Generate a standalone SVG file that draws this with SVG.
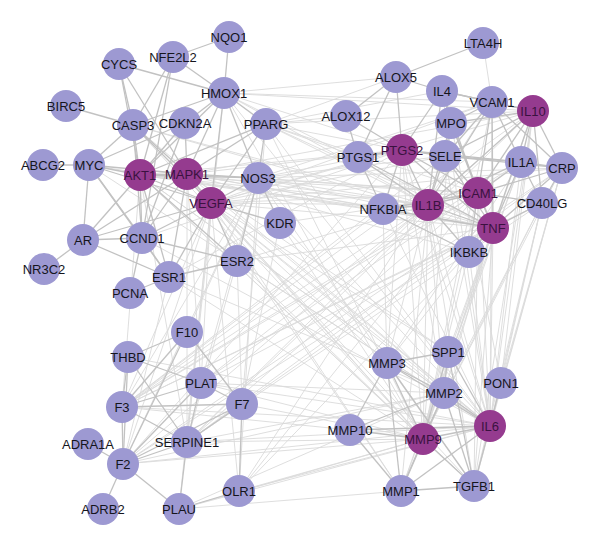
<svg xmlns="http://www.w3.org/2000/svg" width="600" height="547" viewBox="0 0 600 547">
<style>
.k{stroke:#c2c2c2;stroke-width:1.3;fill:none}
.f{stroke:#dadada;stroke-width:0.9;fill:none}
.n circle{fill:#9d99d2}
.h circle{fill:#953b8f}
text{font-family:"Liberation Sans",Arial,sans-serif;font-size:13px;fill:#15151c;text-anchor:middle}
.h text{fill:#3a1240}
</style>
<rect width="600" height="547" fill="#ffffff"/>
<g id="connectors">
<g class="f">
<line x1="140" y1="175" x2="428" y2="205"/><line x1="140" y1="175" x2="493" y2="228"/><line x1="140" y1="175" x2="402" y2="150"/><line x1="140" y1="175" x2="478" y2="193"/><line x1="140" y1="175" x2="383" y2="209"/>
<line x1="187" y1="174" x2="428" y2="205"/><line x1="187" y1="174" x2="493" y2="228"/><line x1="187" y1="174" x2="402" y2="150"/><line x1="187" y1="174" x2="478" y2="193"/><line x1="187" y1="174" x2="383" y2="209"/><line x1="187" y1="174" x2="469" y2="252"/><line x1="187" y1="174" x2="533" y2="111"/>
<line x1="211" y1="203" x2="428" y2="205"/><line x1="211" y1="203" x2="493" y2="228"/><line x1="211" y1="203" x2="478" y2="193"/><line x1="211" y1="203" x2="402" y2="150"/><line x1="211" y1="203" x2="533" y2="111"/><line x1="211" y1="203" x2="492" y2="102"/><line x1="211" y1="203" x2="445" y2="156"/><line x1="211" y1="203" x2="562" y2="168"/>
<line x1="258" y1="178" x2="478" y2="193"/><line x1="258" y1="178" x2="492" y2="102"/><line x1="258" y1="178" x2="493" y2="228"/><line x1="258" y1="178" x2="402" y2="150"/><line x1="258" y1="178" x2="445" y2="156"/><line x1="258" y1="178" x2="562" y2="168"/><line x1="258" y1="178" x2="428" y2="205"/>
<line x1="224" y1="93" x2="402" y2="150"/><line x1="224" y1="93" x2="533" y2="111"/><line x1="224" y1="93" x2="493" y2="228"/><line x1="224" y1="93" x2="396" y2="77"/><line x1="224" y1="93" x2="492" y2="102"/><line x1="224" y1="93" x2="428" y2="205"/>
<line x1="266" y1="124" x2="402" y2="150"/><line x1="266" y1="124" x2="493" y2="228"/><line x1="266" y1="124" x2="428" y2="205"/><line x1="266" y1="124" x2="478" y2="193"/><line x1="266" y1="124" x2="346" y2="116"/><line x1="266" y1="124" x2="396" y2="77"/><line x1="266" y1="124" x2="533" y2="111"/><line x1="266" y1="124" x2="358" y2="157"/><line x1="266" y1="124" x2="442" y2="91"/>
<line x1="133" y1="125" x2="493" y2="228"/><line x1="133" y1="125" x2="428" y2="205"/><line x1="89" y1="165" x2="493" y2="228"/><line x1="142" y1="238" x2="402" y2="150"/><line x1="169" y1="277" x2="402" y2="150"/><line x1="237" y1="261" x2="428" y2="205"/><line x1="237" y1="261" x2="493" y2="228"/><line x1="280" y1="223" x2="478" y2="193"/>
<line x1="211" y1="203" x2="423" y2="439"/><line x1="211" y1="203" x2="490" y2="426"/><line x1="211" y1="203" x2="444" y2="393"/><line x1="140" y1="175" x2="423" y2="439"/><line x1="140" y1="175" x2="490" y2="426"/><line x1="187" y1="174" x2="423" y2="439"/><line x1="187" y1="174" x2="490" y2="426"/><line x1="187" y1="174" x2="401" y2="491"/>
<line x1="258" y1="178" x2="490" y2="426"/><line x1="258" y1="178" x2="474" y2="486"/><line x1="142" y1="238" x2="490" y2="426"/><line x1="169" y1="277" x2="444" y2="393"/><line x1="237" y1="261" x2="423" y2="439"/><line x1="237" y1="261" x2="490" y2="426"/><line x1="280" y1="223" x2="444" y2="393"/><line x1="280" y1="223" x2="423" y2="439"/>
<line x1="266" y1="124" x2="490" y2="426"/><line x1="266" y1="124" x2="423" y2="439"/><line x1="224" y1="93" x2="423" y2="439"/><line x1="224" y1="93" x2="490" y2="426"/><line x1="133" y1="125" x2="423" y2="439"/><line x1="133" y1="125" x2="490" y2="426"/><line x1="89" y1="165" x2="490" y2="426"/><line x1="211" y1="203" x2="387" y2="363"/>
<line x1="211" y1="203" x2="448" y2="352"/><line x1="211" y1="203" x2="474" y2="486"/><line x1="140" y1="175" x2="474" y2="486"/><line x1="169" y1="277" x2="423" y2="439"/><line x1="187" y1="174" x2="448" y2="352"/><line x1="140" y1="175" x2="444" y2="393"/><line x1="211" y1="203" x2="401" y2="491"/>
<line x1="533" y1="111" x2="490" y2="426"/><line x1="533" y1="111" x2="474" y2="486"/><line x1="533" y1="111" x2="423" y2="439"/><line x1="562" y1="168" x2="490" y2="426"/><line x1="562" y1="168" x2="501" y2="383"/><line x1="562" y1="168" x2="423" y2="439"/><line x1="542" y1="203" x2="490" y2="426"/><line x1="542" y1="203" x2="423" y2="439"/><line x1="542" y1="203" x2="474" y2="486"/>
<line x1="493" y1="228" x2="490" y2="426"/><line x1="493" y1="228" x2="423" y2="439"/><line x1="493" y1="228" x2="444" y2="393"/><line x1="493" y1="228" x2="474" y2="486"/><line x1="493" y1="228" x2="401" y2="491"/><line x1="493" y1="228" x2="387" y2="363"/><line x1="493" y1="228" x2="448" y2="352"/>
<line x1="478" y1="193" x2="490" y2="426"/><line x1="478" y1="193" x2="423" y2="439"/><line x1="478" y1="193" x2="474" y2="486"/><line x1="428" y1="205" x2="490" y2="426"/><line x1="428" y1="205" x2="423" y2="439"/><line x1="428" y1="205" x2="387" y2="363"/><line x1="428" y1="205" x2="401" y2="491"/><line x1="428" y1="205" x2="444" y2="393"/><line x1="428" y1="205" x2="474" y2="486"/>
<line x1="492" y1="102" x2="490" y2="426"/><line x1="492" y1="102" x2="423" y2="439"/><line x1="445" y1="156" x2="490" y2="426"/><line x1="451" y1="123" x2="423" y2="439"/><line x1="451" y1="123" x2="501" y2="383"/><line x1="442" y1="91" x2="490" y2="426"/><line x1="521" y1="162" x2="490" y2="426"/><line x1="521" y1="162" x2="423" y2="439"/><line x1="521" y1="162" x2="387" y2="363"/><line x1="521" y1="162" x2="401" y2="491"/>
<line x1="402" y1="150" x2="490" y2="426"/><line x1="402" y1="150" x2="423" y2="439"/><line x1="402" y1="150" x2="444" y2="393"/><line x1="383" y1="209" x2="490" y2="426"/><line x1="469" y1="252" x2="490" y2="426"/><line x1="469" y1="252" x2="423" y2="439"/><line x1="562" y1="168" x2="474" y2="486"/><line x1="542" y1="203" x2="444" y2="393"/><line x1="542" y1="203" x2="501" y2="383"/><line x1="533" y1="111" x2="501" y2="383"/><line x1="402" y1="150" x2="387" y2="363"/><line x1="383" y1="209" x2="387" y2="363"/>
<line x1="478" y1="193" x2="187" y2="442"/><line x1="493" y1="228" x2="187" y2="442"/><line x1="493" y1="228" x2="122" y2="407"/><line x1="428" y1="205" x2="187" y2="442"/><line x1="428" y1="205" x2="122" y2="407"/><line x1="428" y1="205" x2="201" y2="383"/><line x1="493" y1="228" x2="123" y2="464"/><line x1="493" y1="228" x2="239" y2="491"/>
<line x1="562" y1="168" x2="123" y2="464"/><line x1="562" y1="168" x2="187" y2="442"/><line x1="533" y1="111" x2="122" y2="407"/><line x1="492" y1="102" x2="239" y2="491"/><line x1="478" y1="193" x2="239" y2="491"/><line x1="445" y1="156" x2="122" y2="407"/><line x1="402" y1="150" x2="123" y2="464"/><line x1="521" y1="162" x2="122" y2="407"/>
<line x1="542" y1="203" x2="122" y2="407"/><line x1="542" y1="203" x2="187" y2="442"/><line x1="428" y1="205" x2="123" y2="464"/><line x1="383" y1="209" x2="122" y2="407"/><line x1="478" y1="193" x2="122" y2="407"/><line x1="533" y1="111" x2="187" y2="442"/><line x1="493" y1="228" x2="201" y2="383"/><line x1="521" y1="162" x2="201" y2="383"/>
<line x1="187" y1="442" x2="490" y2="426"/><line x1="187" y1="442" x2="423" y2="439"/><line x1="187" y1="442" x2="444" y2="393"/><line x1="122" y1="407" x2="490" y2="426"/><line x1="123" y1="464" x2="423" y2="439"/><line x1="123" y1="464" x2="444" y2="393"/><line x1="179" y1="509" x2="423" y2="439"/><line x1="179" y1="509" x2="444" y2="393"/><line x1="179" y1="509" x2="401" y2="491"/><line x1="179" y1="509" x2="490" y2="426"/>
<line x1="201" y1="383" x2="423" y2="439"/><line x1="201" y1="383" x2="444" y2="393"/><line x1="239" y1="491" x2="490" y2="426"/><line x1="239" y1="491" x2="423" y2="439"/><line x1="122" y1="407" x2="350" y2="430"/><line x1="128" y1="357" x2="490" y2="426"/><line x1="242" y1="404" x2="423" y2="439"/><line x1="123" y1="464" x2="490" y2="426"/><line x1="201" y1="383" x2="490" y2="426"/>
<line x1="211" y1="203" x2="187" y2="442"/><line x1="211" y1="203" x2="122" y2="407"/><line x1="211" y1="203" x2="201" y2="383"/><line x1="211" y1="203" x2="123" y2="464"/><line x1="140" y1="175" x2="187" y2="442"/><line x1="140" y1="175" x2="122" y2="407"/><line x1="187" y1="174" x2="187" y2="442"/><line x1="258" y1="178" x2="123" y2="464"/>
<line x1="258" y1="178" x2="122" y2="407"/><line x1="258" y1="178" x2="201" y2="383"/><line x1="258" y1="178" x2="187" y2="332"/><line x1="169" y1="277" x2="123" y2="464"/><line x1="237" y1="261" x2="242" y2="404"/><line x1="237" y1="261" x2="187" y2="442"/><line x1="280" y1="223" x2="242" y2="404"/><line x1="266" y1="124" x2="242" y2="404"/>
<line x1="224" y1="93" x2="187" y2="442"/><line x1="187" y1="174" x2="201" y2="383"/><line x1="211" y1="203" x2="179" y2="509"/><line x1="211" y1="203" x2="239" y2="491"/><line x1="258" y1="178" x2="239" y2="491"/><line x1="483" y1="43" x2="492" y2="102"/>
</g>
<g class="k">
<line x1="229" y1="37" x2="173" y2="57"/><line x1="229" y1="37" x2="224" y2="93"/><line x1="173" y1="57" x2="224" y2="93"/><line x1="119" y1="64" x2="224" y2="93"/><line x1="119" y1="64" x2="133" y2="125"/><line x1="119" y1="64" x2="140" y2="175"/><line x1="119" y1="64" x2="187" y2="174"/>
<line x1="173" y1="57" x2="133" y2="125"/><line x1="173" y1="57" x2="140" y2="175"/><line x1="173" y1="57" x2="142" y2="238"/><line x1="66" y1="106" x2="133" y2="125"/><line x1="224" y1="93" x2="133" y2="125"/><line x1="224" y1="93" x2="185" y2="123"/><line x1="224" y1="93" x2="266" y2="124"/><line x1="224" y1="93" x2="140" y2="175"/>
<line x1="224" y1="93" x2="187" y2="174"/><line x1="224" y1="93" x2="211" y2="203"/><line x1="224" y1="93" x2="258" y2="178"/><line x1="133" y1="125" x2="140" y2="175"/><line x1="133" y1="125" x2="187" y2="174"/><line x1="133" y1="125" x2="89" y2="165"/><line x1="133" y1="125" x2="211" y2="203"/><line x1="133" y1="125" x2="142" y2="238"/>
<line x1="185" y1="123" x2="140" y2="175"/><line x1="185" y1="123" x2="187" y2="174"/><line x1="185" y1="123" x2="142" y2="238"/><line x1="185" y1="123" x2="89" y2="165"/><line x1="89" y1="165" x2="43" y2="165"/><line x1="89" y1="165" x2="140" y2="175"/><line x1="89" y1="165" x2="187" y2="174"/><line x1="89" y1="165" x2="83" y2="240"/>
<line x1="89" y1="165" x2="142" y2="238"/><line x1="89" y1="165" x2="211" y2="203"/><line x1="89" y1="165" x2="169" y2="277"/><line x1="140" y1="175" x2="187" y2="174"/><line x1="140" y1="175" x2="211" y2="203"/><line x1="140" y1="175" x2="258" y2="178"/><line x1="140" y1="175" x2="142" y2="238"/><line x1="140" y1="175" x2="169" y2="277"/>
<line x1="140" y1="175" x2="83" y2="240"/><line x1="140" y1="175" x2="237" y2="261"/><line x1="187" y1="174" x2="211" y2="203"/><line x1="187" y1="174" x2="258" y2="178"/><line x1="187" y1="174" x2="169" y2="277"/><line x1="187" y1="174" x2="142" y2="238"/><line x1="187" y1="174" x2="83" y2="240"/><line x1="211" y1="203" x2="258" y2="178"/>
<line x1="211" y1="203" x2="280" y2="223"/><line x1="211" y1="203" x2="237" y2="261"/><line x1="211" y1="203" x2="169" y2="277"/><line x1="211" y1="203" x2="142" y2="238"/><line x1="211" y1="203" x2="83" y2="240"/><line x1="258" y1="178" x2="280" y2="223"/><line x1="258" y1="178" x2="266" y2="124"/><line x1="258" y1="178" x2="237" y2="261"/>
<line x1="266" y1="124" x2="211" y2="203"/><line x1="266" y1="124" x2="140" y2="175"/><line x1="266" y1="124" x2="187" y2="174"/><line x1="83" y1="240" x2="44" y2="269"/><line x1="83" y1="240" x2="142" y2="238"/><line x1="83" y1="240" x2="169" y2="277"/><line x1="142" y1="238" x2="169" y2="277"/><line x1="142" y1="238" x2="237" y2="261"/>
<line x1="169" y1="277" x2="237" y2="261"/><line x1="169" y1="277" x2="130" y2="293"/><line x1="130" y1="293" x2="142" y2="238"/>
<line x1="483" y1="43" x2="396" y2="77"/><line x1="396" y1="77" x2="442" y2="91"/><line x1="396" y1="77" x2="346" y2="116"/><line x1="396" y1="77" x2="358" y2="157"/><line x1="396" y1="77" x2="402" y2="150"/><line x1="346" y1="116" x2="358" y2="157"/><line x1="346" y1="116" x2="402" y2="150"/><line x1="358" y1="157" x2="402" y2="150"/>
<line x1="442" y1="91" x2="492" y2="102"/><line x1="442" y1="91" x2="451" y2="123"/><line x1="442" y1="91" x2="402" y2="150"/><line x1="442" y1="91" x2="533" y2="111"/><line x1="442" y1="91" x2="478" y2="193"/><line x1="442" y1="91" x2="428" y2="205"/><line x1="492" y1="102" x2="533" y2="111"/><line x1="492" y1="102" x2="445" y2="156"/>
<line x1="492" y1="102" x2="478" y2="193"/><line x1="492" y1="102" x2="521" y2="162"/><line x1="492" y1="102" x2="493" y2="228"/><line x1="492" y1="102" x2="451" y2="123"/><line x1="492" y1="102" x2="428" y2="205"/><line x1="492" y1="102" x2="562" y2="168"/><line x1="533" y1="111" x2="521" y2="162"/><line x1="533" y1="111" x2="562" y2="168"/>
<line x1="533" y1="111" x2="542" y2="203"/><line x1="533" y1="111" x2="493" y2="228"/><line x1="533" y1="111" x2="478" y2="193"/><line x1="533" y1="111" x2="428" y2="205"/><line x1="533" y1="111" x2="445" y2="156"/><line x1="533" y1="111" x2="451" y2="123"/><line x1="451" y1="123" x2="445" y2="156"/><line x1="451" y1="123" x2="478" y2="193"/>
<line x1="451" y1="123" x2="493" y2="228"/><line x1="451" y1="123" x2="428" y2="205"/><line x1="402" y1="150" x2="445" y2="156"/><line x1="402" y1="150" x2="428" y2="205"/><line x1="402" y1="150" x2="383" y2="209"/><line x1="402" y1="150" x2="478" y2="193"/><line x1="402" y1="150" x2="493" y2="228"/><line x1="402" y1="150" x2="521" y2="162"/>
<line x1="445" y1="156" x2="478" y2="193"/><line x1="445" y1="156" x2="428" y2="205"/><line x1="445" y1="156" x2="493" y2="228"/><line x1="445" y1="156" x2="521" y2="162"/><line x1="445" y1="156" x2="562" y2="168"/><line x1="521" y1="162" x2="478" y2="193"/><line x1="521" y1="162" x2="493" y2="228"/><line x1="521" y1="162" x2="428" y2="205"/>
<line x1="521" y1="162" x2="562" y2="168"/><line x1="521" y1="162" x2="542" y2="203"/><line x1="562" y1="168" x2="478" y2="193"/><line x1="562" y1="168" x2="542" y2="203"/><line x1="562" y1="168" x2="493" y2="228"/><line x1="478" y1="193" x2="428" y2="205"/><line x1="478" y1="193" x2="493" y2="228"/><line x1="478" y1="193" x2="542" y2="203"/>
<line x1="478" y1="193" x2="383" y2="209"/><line x1="478" y1="193" x2="469" y2="252"/><line x1="428" y1="205" x2="493" y2="228"/><line x1="428" y1="205" x2="383" y2="209"/><line x1="428" y1="205" x2="469" y2="252"/><line x1="493" y1="228" x2="469" y2="252"/><line x1="493" y1="228" x2="542" y2="203"/><line x1="383" y1="209" x2="469" y2="252"/>
<line x1="383" y1="209" x2="493" y2="228"/><line x1="358" y1="157" x2="428" y2="205"/><line x1="358" y1="157" x2="383" y2="209"/><line x1="358" y1="157" x2="493" y2="228"/>
<line x1="187" y1="332" x2="128" y2="357"/><line x1="187" y1="332" x2="122" y2="407"/><line x1="187" y1="332" x2="123" y2="464"/><line x1="187" y1="332" x2="242" y2="404"/><line x1="128" y1="357" x2="122" y2="407"/><line x1="128" y1="357" x2="123" y2="464"/><line x1="128" y1="357" x2="201" y2="383"/><line x1="128" y1="357" x2="187" y2="442"/>
<line x1="201" y1="383" x2="122" y2="407"/><line x1="201" y1="383" x2="123" y2="464"/><line x1="201" y1="383" x2="187" y2="442"/><line x1="201" y1="383" x2="242" y2="404"/><line x1="122" y1="407" x2="242" y2="404"/><line x1="122" y1="407" x2="187" y2="442"/><line x1="122" y1="407" x2="123" y2="464"/><line x1="242" y1="404" x2="123" y2="464"/>
<line x1="242" y1="404" x2="187" y2="442"/><line x1="242" y1="404" x2="239" y2="491"/><line x1="187" y1="442" x2="123" y2="464"/><line x1="187" y1="442" x2="179" y2="509"/><line x1="88" y1="444" x2="123" y2="464"/><line x1="123" y1="464" x2="103" y2="509"/><line x1="123" y1="464" x2="179" y2="509"/><line x1="179" y1="509" x2="239" y2="491"/>
<line x1="387" y1="363" x2="448" y2="352"/><line x1="387" y1="363" x2="444" y2="393"/><line x1="387" y1="363" x2="490" y2="426"/><line x1="387" y1="363" x2="423" y2="439"/><line x1="387" y1="363" x2="350" y2="430"/><line x1="387" y1="363" x2="401" y2="491"/><line x1="387" y1="363" x2="474" y2="486"/><line x1="448" y1="352" x2="444" y2="393"/>
<line x1="448" y1="352" x2="490" y2="426"/><line x1="448" y1="352" x2="423" y2="439"/><line x1="448" y1="352" x2="474" y2="486"/><line x1="444" y1="393" x2="490" y2="426"/><line x1="444" y1="393" x2="423" y2="439"/><line x1="444" y1="393" x2="350" y2="430"/><line x1="444" y1="393" x2="474" y2="486"/><line x1="444" y1="393" x2="401" y2="491"/>
<line x1="501" y1="383" x2="490" y2="426"/><line x1="490" y1="426" x2="423" y2="439"/><line x1="490" y1="426" x2="350" y2="430"/><line x1="490" y1="426" x2="474" y2="486"/><line x1="490" y1="426" x2="401" y2="491"/><line x1="350" y1="430" x2="423" y2="439"/><line x1="350" y1="430" x2="401" y2="491"/><line x1="423" y1="439" x2="401" y2="491"/>
<line x1="423" y1="439" x2="474" y2="486"/><line x1="401" y1="491" x2="474" y2="486"/>
</g>
</g>
<g id="nodes">
<g id="NQO1" class="n"><circle cx="229" cy="37" r="16"/><text x="229" y="41.5">NQO1</text></g>
<g id="NFE2L2" class="n"><circle cx="173" cy="57" r="16"/><text x="173" y="61.5">NFE2L2</text></g>
<g id="CYCS" class="n"><circle cx="119" cy="64" r="16"/><text x="119" y="68.5">CYCS</text></g>
<g id="HMOX1" class="n"><circle cx="224" cy="93" r="16"/><text x="224" y="97.5">HMOX1</text></g>
<g id="BIRC5" class="n"><circle cx="66" cy="106" r="16"/><text x="66" y="110.5">BIRC5</text></g>
<g id="CASP3" class="n"><circle cx="133" cy="125" r="16"/><text x="133" y="129.5">CASP3</text></g>
<g id="CDKN2A" class="n"><circle cx="185" cy="123" r="16"/><text x="185" y="127.5">CDKN2A</text></g>
<g id="PPARG" class="n"><circle cx="266" cy="124" r="16"/><text x="266" y="128.5">PPARG</text></g>
<g id="ABCG2" class="n"><circle cx="43" cy="165" r="16"/><text x="43" y="169.5">ABCG2</text></g>
<g id="MYC" class="n"><circle cx="89" cy="165" r="16"/><text x="89" y="169.5">MYC</text></g>
<g id="AKT1" class="h"><circle cx="140" cy="175" r="16"/><text x="140" y="179.5">AKT1</text></g>
<g id="MAPK1" class="h"><circle cx="187" cy="174" r="16"/><text x="187" y="178.5">MAPK1</text></g>
<g id="NOS3" class="n"><circle cx="258" cy="178" r="16"/><text x="258" y="182.5">NOS3</text></g>
<g id="VEGFA" class="h"><circle cx="211" cy="203" r="16"/><text x="211" y="207.5">VEGFA</text></g>
<g id="KDR" class="n"><circle cx="280" cy="223" r="16"/><text x="280" y="227.5">KDR</text></g>
<g id="AR" class="n"><circle cx="83" cy="240" r="16"/><text x="83" y="244.5">AR</text></g>
<g id="CCND1" class="n"><circle cx="142" cy="238" r="16"/><text x="142" y="242.5">CCND1</text></g>
<g id="ESR2" class="n"><circle cx="237" cy="261" r="16"/><text x="237" y="265.5">ESR2</text></g>
<g id="NR3C2" class="n"><circle cx="44" cy="269" r="16"/><text x="44" y="273.5">NR3C2</text></g>
<g id="ESR1" class="n"><circle cx="169" cy="277" r="16"/><text x="169" y="281.5">ESR1</text></g>
<g id="PCNA" class="n"><circle cx="130" cy="293" r="16"/><text x="130" y="297.5">PCNA</text></g>
<g id="LTA4H" class="n"><circle cx="483" cy="43" r="16"/><text x="483" y="47.5">LTA4H</text></g>
<g id="ALOX5" class="n"><circle cx="396" cy="77" r="16"/><text x="396" y="81.5">ALOX5</text></g>
<g id="IL4" class="n"><circle cx="442" cy="91" r="16"/><text x="442" y="95.5">IL4</text></g>
<g id="VCAM1" class="n"><circle cx="492" cy="102" r="16"/><text x="492" y="106.5">VCAM1</text></g>
<g id="IL10" class="h"><circle cx="533" cy="111" r="16"/><text x="533" y="115.5">IL10</text></g>
<g id="ALOX12" class="n"><circle cx="346" cy="116" r="16"/><text x="346" y="120.5">ALOX12</text></g>
<g id="MPO" class="n"><circle cx="451" cy="123" r="16"/><text x="451" y="127.5">MPO</text></g>
<g id="PTGS1" class="n"><circle cx="358" cy="157" r="16"/><text x="358" y="161.5">PTGS1</text></g>
<g id="PTGS2" class="h"><circle cx="402" cy="150" r="16"/><text x="402" y="154.5">PTGS2</text></g>
<g id="SELE" class="n"><circle cx="445" cy="156" r="16"/><text x="445" y="160.5">SELE</text></g>
<g id="IL1A" class="n"><circle cx="521" cy="162" r="16"/><text x="521" y="166.5">IL1A</text></g>
<g id="CRP" class="n"><circle cx="562" cy="168" r="16"/><text x="562" y="172.5">CRP</text></g>
<g id="ICAM1" class="h"><circle cx="478" cy="193" r="16"/><text x="478" y="197.5">ICAM1</text></g>
<g id="NFKBIA" class="n"><circle cx="383" cy="209" r="16"/><text x="383" y="213.5">NFKBIA</text></g>
<g id="IL1B" class="h"><circle cx="428" cy="205" r="16"/><text x="428" y="209.5">IL1B</text></g>
<g id="CD40LG" class="n"><circle cx="542" cy="203" r="16"/><text x="542" y="207.5">CD40LG</text></g>
<g id="TNF" class="h"><circle cx="493" cy="228" r="16"/><text x="493" y="232.5">TNF</text></g>
<g id="IKBKB" class="n"><circle cx="469" cy="252" r="16"/><text x="469" y="256.5">IKBKB</text></g>
<g id="F10" class="n"><circle cx="187" cy="332" r="16"/><text x="187" y="336.5">F10</text></g>
<g id="THBD" class="n"><circle cx="128" cy="357" r="16"/><text x="128" y="361.5">THBD</text></g>
<g id="PLAT" class="n"><circle cx="201" cy="383" r="16"/><text x="201" y="387.5">PLAT</text></g>
<g id="F7" class="n"><circle cx="242" cy="404" r="16"/><text x="242" y="408.5">F7</text></g>
<g id="F3" class="n"><circle cx="122" cy="407" r="16"/><text x="122" y="411.5">F3</text></g>
<g id="SERPINE1" class="n"><circle cx="187" cy="442" r="16"/><text x="187" y="446.5">SERPINE1</text></g>
<g id="ADRA1A" class="n"><circle cx="88" cy="444" r="16"/><text x="88" y="448.5">ADRA1A</text></g>
<g id="F2" class="n"><circle cx="123" cy="464" r="16"/><text x="123" y="468.5">F2</text></g>
<g id="OLR1" class="n"><circle cx="239" cy="491" r="16"/><text x="239" y="495.5">OLR1</text></g>
<g id="ADRB2" class="n"><circle cx="103" cy="509" r="16"/><text x="103" y="513.5">ADRB2</text></g>
<g id="PLAU" class="n"><circle cx="179" cy="509" r="16"/><text x="179" y="513.5">PLAU</text></g>
<g id="SPP1" class="n"><circle cx="448" cy="352" r="16"/><text x="448" y="356.5">SPP1</text></g>
<g id="MMP3" class="n"><circle cx="387" cy="363" r="16"/><text x="387" y="367.5">MMP3</text></g>
<g id="PON1" class="n"><circle cx="501" cy="383" r="16"/><text x="501" y="387.5">PON1</text></g>
<g id="MMP2" class="n"><circle cx="444" cy="393" r="16"/><text x="444" y="397.5">MMP2</text></g>
<g id="IL6" class="h"><circle cx="490" cy="426" r="16"/><text x="490" y="430.5">IL6</text></g>
<g id="MMP10" class="n"><circle cx="350" cy="430" r="16"/><text x="350" y="434.5">MMP10</text></g>
<g id="MMP9" class="h"><circle cx="423" cy="439" r="16"/><text x="423" y="443.5">MMP9</text></g>
<g id="MMP1" class="n"><circle cx="401" cy="491" r="16"/><text x="401" y="495.5">MMP1</text></g>
<g id="TGFB1" class="n"><circle cx="474" cy="486" r="16"/><text x="474" y="490.5">TGFB1</text></g>
</g>
</svg>
